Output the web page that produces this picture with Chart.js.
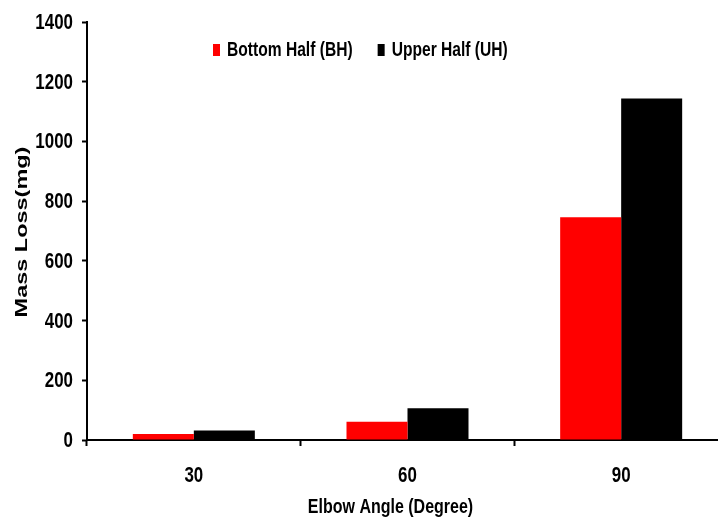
<!DOCTYPE html>
<html>
<head>
<meta charset="utf-8">
<script src="https://cdn.jsdelivr.net/npm/chart.js@4.4.0/dist/chart.umd.min.js"></script>
<style>
  html, body { margin: 0; padding: 0; background: #fff; overflow: hidden; }
  #wrap { width: 730px; height: 521px; }
</style>
</head>
<body>
<div id="wrap"><canvas id="massChart" width="730" height="521"></canvas></div>
<script>
// chart data
const angles = ["30", "60", "90"];
const bottomHalf = [20, 61, 746];
const upperHalf = [32, 106, 1144];
const seriesNames = ["Bottom Half (BH)", "Upper Half (UH)"];
const seriesColors = ["#ff0000", "#000000"];
const yTitle = "Mass Loss(mg)";
const xTitle = "Elbow Angle (Degree)";

const sans = "'Liberation Sans', Arial, sans-serif";

// the original text is squeezed sideways, so draw it with a horizontal scale
function squeezedText(ctx, text, x, y, size, sx, align, baseline) {
  ctx.save();
  ctx.font = "bold " + size + "px " + sans;
  ctx.fillStyle = "#000";
  ctx.textAlign = align;
  ctx.textBaseline = baseline;
  ctx.translate(x, y);
  ctx.scale(sx, 1);
  ctx.fillText(text, 0, 0);
  const w = ctx.measureText(text).width * sx;
  ctx.restore();
  return w;
}

const textPlugin = {
  id: "texts",
  afterDraw: function (chart) {
    const ctx = chart.ctx;
    const area = chart.chartArea;
    const xs = chart.scales.x;
    const ys = chart.scales.y;

    // y tick labels
    ys.ticks.forEach(function (t) {
      const py = ys.getPixelForValue(t.value);
      squeezedText(ctx, String(t.value), 73, py + 1, 22, 0.77, "right", "middle");
    });

    // x tick labels
    chart.data.labels.forEach(function (lab, i) {
      const px = xs.getPixelForValue(i);
      squeezedText(ctx, lab, px, 476, 22, 0.77, "center", "middle");
    });

    // x title
    squeezedText(ctx, xTitle, (area.left + 694) / 2, 507, 20, 0.8, "center", "middle");

    // y title, rotated and stretched along the reading direction
    ctx.save();
    ctx.translate(27, (area.top + area.bottom) / 2 + 1);
    ctx.rotate(-Math.PI / 2);
    ctx.scale(1.38, 1);
    ctx.font = "bold 17px " + sans;
    ctx.fillStyle = "#000";
    ctx.textAlign = "center";
    ctx.textBaseline = "alphabetic";
    ctx.fillText(yTitle, 0, 0);
    ctx.restore();

    // legend inside the plot
    let lx = 213;
    chart.data.datasets.forEach(function (ds) {
      ctx.fillStyle = ds.backgroundColor;
      ctx.fillRect(lx, 44, 7, 12);
      const w = squeezedText(ctx, ds.label, lx + 14, 51, 19.5, 0.8, "left", "middle");
      lx = lx + 14 + w + 25;
    });
  }
};

const ctx = document.getElementById("massChart").getContext("2d");
const chart = new Chart(ctx, {
  type: "bar",
  data: {
    labels: angles,
    datasets: [
      {
        label: seriesNames[0],
        data: bottomHalf,
        backgroundColor: seriesColors[0],
        borderWidth: 0
      },
      {
        label: seriesNames[1],
        data: upperHalf,
        backgroundColor: seriesColors[1],
        borderWidth: 0
      }
    ]
  },
  options: {
    responsive: false,
    animation: false,
    layout: {
      padding: { left: 82, right: 2, top: 22, bottom: 75 }
    },
    datasets: {
      bar: {
        barPercentage: 1,
        categoryPercentage: 0.571
      }
    },
    scales: {
      x: {
        grid: {
          display: true,
          drawOnChartArea: false,
          drawTicks: true,
          tickLength: 6,
          tickWidth: 2,
          tickColor: "#000"
        },
        border: { display: true, color: "#000", width: 2 },
        ticks: { display: false }
      },
      y: {
        min: 0,
        max: 1400,
        grid: {
          display: true,
          drawOnChartArea: false,
          drawTicks: true,
          tickLength: 5,
          tickWidth: 2,
          tickColor: "#000"
        },
        border: { display: true, color: "#000", width: 2 },
        ticks: { display: false, stepSize: 200 }
      }
    },
    plugins: {
      legend: { display: false },
      tooltip: { enabled: false }
    }
  },
  plugins: [textPlugin]
});
</script>
</body>
</html>
